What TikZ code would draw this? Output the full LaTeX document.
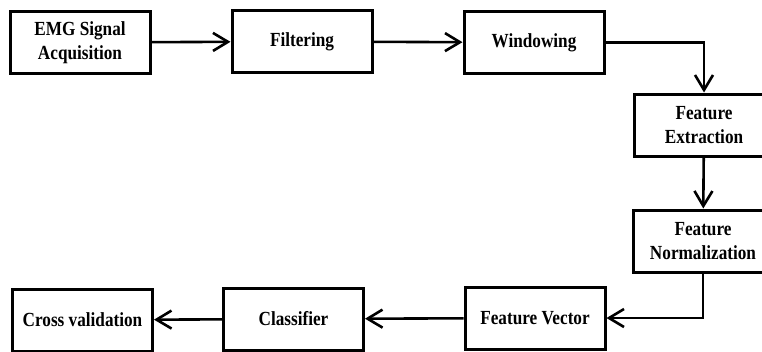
\documentclass[tikz,border=0pt]{standalone}
\usepackage{fontspec}
\setmainfont{Liberation Serif}[FakeStretch=0.86]
\usetikzlibrary{arrows.meta}

\begin{document}
\begin{tikzpicture}[x=1pt, y=-1pt,
    block/.style={draw, line width=3pt, minimum width=140pt, minimum height=62pt,
        align=center, inner sep=2pt, font=\fontsize{20}{24}\selectfont\bfseries},
    link/.style={line width=2.6pt, -{Straight Barb[length=15pt, width=18pt, line width=2.6pt]}}]
    \clip (0,0) rectangle (762,351);
    % top row
    \node[block] (emg) at (80,42.5) {EMG Signal\\Acquisition};
    \node[block] (filt) at (302,41.5) {Filtering};
    \node[block] (win) at (534,42.5) {Windowing};
    % right column
    \node[block] (feat) at (704,125) {Feature\\Extraction};
    \node[block] (norm) at (703,241) {Feature\\Normalization};
    % bottom row
    \node[block] (vec) at (535,318) {Feature Vector};
    \node[block] (clf) at (293.5,319) {Classifier};
    \node[block] (cv) at (82.5,320) {Cross validation};
    \coordinate (wcorner) at (feat.north |- win.east);
    \coordinate (ncorner) at (norm.south |- vec.east);
    \draw[link] (emg) -- (filt);
    \draw[link] (filt) -- (win);
    \draw[link] (win.east) -- (wcorner) -- (feat.north);
    \draw[link] (feat) -- (norm);
    \draw[link] (norm.south) -- (ncorner) -- (vec.east);
    \draw[link] (vec) -- (clf);
    \draw[link] (clf) -- (cv);
\end{tikzpicture}
\end{document}
